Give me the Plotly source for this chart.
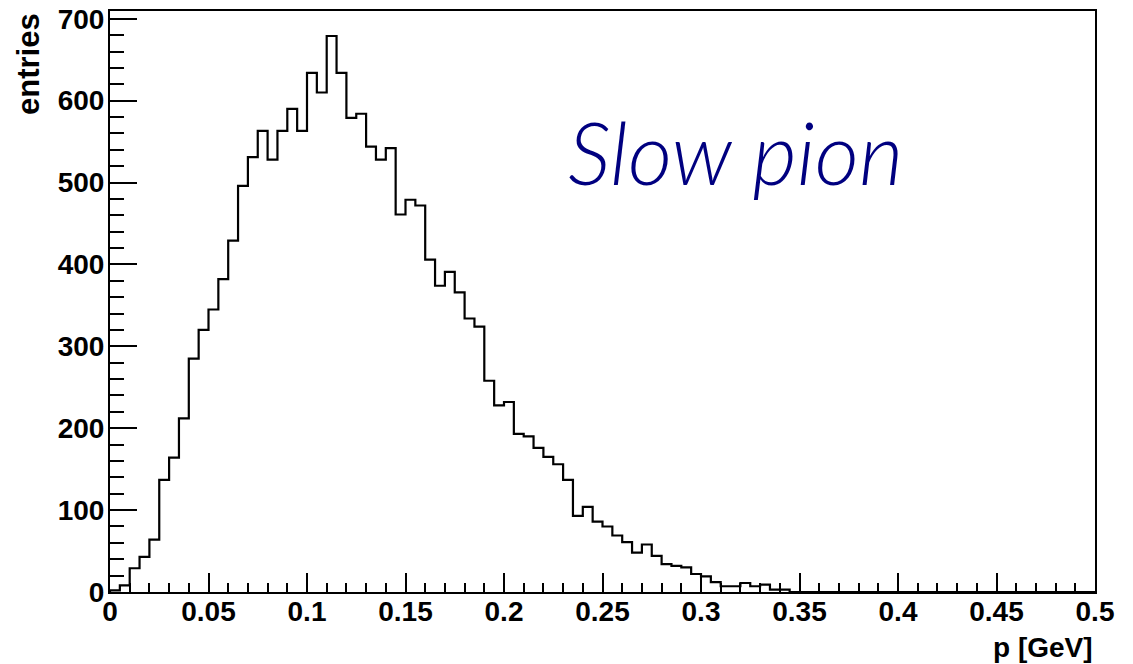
import numpy as np
import plotly.graph_objects as go

# histogram definition: 100 bins from 0 to 0.5 GeV
x_min = 0.0
x_max = 0.5
n_bins = 100

counts = [
    2, 8, 29, 43, 64, 137, 164, 212, 285, 320,
    345, 382, 429, 496, 531, 563, 528, 563, 590, 563,
    634, 610, 679, 634, 579, 584, 544, 528, 542, 461,
    479, 472, 406, 374, 391, 366, 334, 324, 258, 228,
    232, 193, 190, 176, 165, 156, 137, 93, 104, 86,
    80, 69, 61, 48, 58, 44, 34, 32, 30, 22,
    19, 12, 7, 7, 11, 7, 9, 3, 3, 0,
    0, 0, 0, 0, 0, 0, 0, 0, 0, 0,
    0, 0, 0, 0, 0, 0, 0, 0, 0, 0,
    0, 0, 0, 0, 0, 0, 0, 0, 0, 0,
]

x_tick_vals = [0, 0.05, 0.1, 0.15, 0.2, 0.25, 0.3, 0.35, 0.4, 0.45, 0.5]
x_tick_text = ["0", "0.05", "0.1", "0.15", "0.2", "0.25", "0.3", "0.35", "0.4", "0.45", "0.5"]
y_tick_vals = [0, 100, 200, 300, 400, 500, 600, 700]
y_tick_text = ["0", "100", "200", "300", "400", "500", "600", "700"]

x_title = "p [GeV]"
y_title = "entries"
note_text = "Slow pion"

edges = np.linspace(x_min, x_max, n_bins + 1)
step_x = [x_min] + list(edges[:-1]) + [x_max]
step_y = [0] + list(counts) + [0]

fig = go.Figure()
fig.add_trace(go.Scatter(
    x=step_x, y=step_y, mode="lines",
    line=dict(color="black", width=2.2, shape="hv"),
    hoverinfo="skip", showlegend=False,
))

font_main = "Liberation Sans, Arial, Helvetica, sans-serif"

fig.update_layout(
    width=1133, height=664,
    margin=dict(l=110, r=38, t=11, b=72, autoexpand=False),
    paper_bgcolor="white", plot_bgcolor="white",
    font=dict(family=font_main, size=28, color="black", weight="bold"),
    showlegend=False,
)
fig.update_xaxes(
    range=[x_min, x_max], automargin=False,
    showgrid=False, zeroline=False,
    showline=True, linecolor="black", linewidth=2, mirror=True,
    ticks="inside", ticklen=19, tickwidth=2, tickcolor="black",
    tickvals=x_tick_vals, ticktext=x_tick_text,
    ticklabelstandoff=-7,
    tickfont=dict(family=font_main, size=28, color="black", weight="bold"),
    minor=dict(dtick=0.01, tick0=0, ticks="inside", ticklen=9, tickwidth=2, tickcolor="black"),
)
fig.update_yaxes(
    range=[0, 709.5], automargin=False,
    showgrid=False, zeroline=False,
    showline=True, linecolor="black", linewidth=2, mirror=True,
    ticks="inside", ticklen=27, tickwidth=2, tickcolor="black",
    tickvals=y_tick_vals, ticktext=y_tick_text,
    ticklabelstandoff=-2,
    tickfont=dict(family=font_main, size=28, color="black", weight="bold"),
    minor=dict(dtick=20, tick0=0, ticks="inside", ticklen=14, tickwidth=2, tickcolor="black"),
)

fig.add_annotation(
    text=y_title, xref="paper", yref="paper",
    x=-82 / 985, y=1.0, xanchor="center", yanchor="top",
    textangle=-90, showarrow=False,
    font=dict(family=font_main, size=31, color="black", weight="bold"),
)
fig.add_annotation(
    text=x_title, xref="paper", yref="paper",
    x=1.0, y=-55 / 581, xanchor="right", yanchor="middle",
    showarrow=False,
    font=dict(family=font_main, size=28, color="black", weight="bold"),
)
fig.add_annotation(
    text=note_text, xref="paper", yref="paper",
    x=(735 - 110) / 985, y=(592 - 152) / 581, xanchor="center", yanchor="middle",
    showarrow=False,
    font=dict(family="Lato, DejaVu Sans, sans-serif", size=86, color="#000080",
              style="italic", weight=300),
)

fig.write_html(
    "out.html",
    config={"displayModeBar": False},
    post_script="document.body.style.margin='0';document.body.style.overflow='hidden';",
)
